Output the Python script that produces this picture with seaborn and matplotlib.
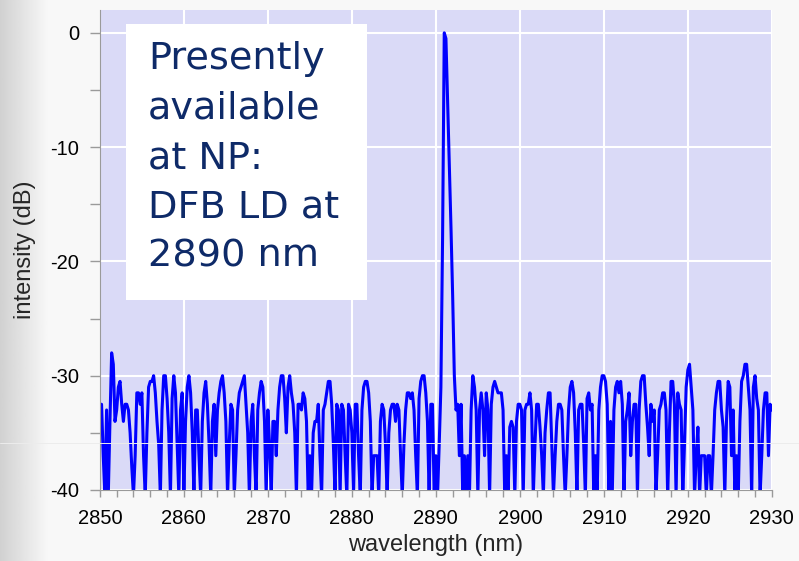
import numpy as np
import matplotlib.pyplot as plt
import seaborn as sns
from matplotlib.patches import Rectangle
from matplotlib.lines import Line2D
from matplotlib.ticker import MultipleLocator

# intensity in dB, sampled every 0.2 nm (values below -40 fall off the axis)
noise_2850 = [-32.5, -32.5, -37, -40.5, -33, -40.5, -34, -28, -29, -34,
              -33, -31, -30.5, -32.5, -34, -32.5, -32.5, -33, -35, -38,
              -40.5, -37, -31.5, -31.5, -32.5, -31.5, -37, -40.5, -35, -31,
              -30.5, -30.5, -30, -31.5, -34, -36, -40.5, -33, -30, -30,
              -32, -35, -40.5, -32, -30, -31.5, -36, -40.5, -33, -31.5]
noise_2860 = [-40.5, -34, -31, -30, -31.5, -35, -40.5, -33, -33, -37,
              -40.5, -34, -31.5, -30.5, -32.5, -36, -40.5, -34, -32.5, -37,
              -33, -31.5, -30.5, -30, -31.5, -34, -40.5, -36, -32.5, -33,
              -40.5, -37, -33, -31.5, -31, -30.5, -30, -32.5, -35, -40.5,
              -34, -32.5, -37, -40.5, -33, -31.5, -30.5, -31, -34, -40.5]
noise_2870 = [-33, -36, -40.5, -34, -34, -37, -33, -31, -30, -30,
              -32, -35, -31, -30, -31.5, -32.5, -35, -40.5, -32.5, -32.5,
              -33, -31.5, -32, -34, -40.5, -37, -40.5, -35, -34, -34,
              -32.5, -37, -40.5, -33, -32.5, -31.5, -30.5, -30.5, -32.5, -36,
              -40.5, -32.5, -33, -40.5, -32.5, -33, -37, -40.5, -32.5, -33]
noise_2880 = [-35, -40.5, -32.5, -32.5, -37, -40.5, -33, -31, -30.5, -30.5,
              -31.5, -34, -40.5, -37, -37, -37, -40.5, -34, -32.5, -33,
              -36, -40.5, -35, -33, -32.5, -32.5, -34, -32.5, -33, -37,
              -40.5, -36, -33, -31.5, -31.5, -32, -31.5, -33, -37, -40.5,
              -32, -30.5, -30, -30, -31.5, -34, -40.5, -32.5, -32.5, -40.5]
laser_2890 = [-37, -40.5, -36, -31, -18, 0, -0.5, -6, -11.5, -17,
              -23, -30, -33, -32.5, -37, -32.5, -40.5, -37, -40.5, -37,
              -40.5, -33, -30, -31, -33, -40.5, -33, -31.5, -33, -37,
              -31.5, -33, -40.5, -32.5, -31, -30.5, -31, -31.5, -31.5, -31.5,
              -33, -40.5, -37, -40.5, -34.5, -34, -34.5, -40.5, -34, -32.5]
noise_2900 = [-32.5, -33, -40.5, -33, -32.5, -32.5, -31.5, -33, -40.5, -36,
              -32.5, -32.5, -34.5, -37, -40.5, -35, -33, -31.5, -31.5, -36,
              -40.5, -37, -34, -32.5, -32.5, -33, -37, -40.5, -37, -33,
              -31, -30.5, -31.5, -35, -40.5, -33, -32.5, -32.5, -36, -40.5,
              -32, -31.5, -33, -32.5, -40.5, -37, -40.5, -33, -31, -30]
noise_2910 = [-30, -30.5, -32.5, -40.5, -34, -40.5, -33, -31, -30.5, -31.5,
              -30.5, -32.5, -40.5, -34, -33, -31.5, -37, -34, -32.5, -32.5,
              -40.5, -33, -30.5, -30, -30, -32.5, -34.5, -37, -32.5, -34,
              -33, -40.5, -37, -33, -32.5, -31.5, -31.5, -33, -40.5, -35,
              -30.5, -30.5, -32.5, -40.5, -31.5, -32.5, -33, -40.5, -36, -31]
noise_2920 = [-29.5, -29, -31, -33, -40.5, -37, -34.5, -40.5, -37, -37,
              -37, -40.5, -37, -37, -40.5, -37, -33, -31.5, -30.5, -30.5,
              -33, -34.5, -40.5, -34, -30.5, -31, -37, -33, -40.5, -37,
              -40.5, -34, -30.5, -30, -29, -29, -31, -33, -40.5, -31,
              -30, -32, -33, -40.5, -37, -33, -31.5, -31.5, -37, -32.5,
              -33]

intensity = (noise_2850 + noise_2860 + noise_2870 + noise_2880 + laser_2890
             + noise_2900 + noise_2910 + noise_2920)
wavelength = np.linspace(2850, 2930, len(intensity))

note = "Presently\navailable\nat NP:\nDFB LD at\n2890 nm"

sns.set_style("darkgrid", {"axes.facecolor": "#dadaf7", "grid.color": "white",
                           "axes.edgecolor": "#9a9a9a", "xtick.bottom": True,
                           "ytick.left": True})
plt.rcParams['font.family'] = ['Liberation Sans', 'DejaVu Sans']
plt.rcParams['axes.unicode_minus'] = False

fig = plt.figure(figsize=(7.99, 5.61), dpi=100, facecolor='#f8f8f8')

# grey slide margin on the left
grad = np.linspace(0.82, 0.97, 60).reshape(1, -1)
bg = fig.add_axes([0, 0, 0.06, 1], zorder=-5)
bg.imshow(grad, cmap='gray', vmin=0, vmax=1, aspect='auto')
bg.axis('off')
fig.add_artist(Line2D([0, 1], [1 - 443 / 561] * 2, color='#ececec', lw=0.7))

ax = fig.add_axes([0.125, 0.1266, 0.841, 0.8556])
sns.lineplot(x=wavelength, y=intensity, color='#0000ff', lw=2.2, ax=ax)

ax.set_xlim(2850, 2930)
ax.set_ylim(-40, 2)
ax.xaxis.set_major_locator(MultipleLocator(10))
ax.xaxis.set_minor_locator(MultipleLocator(2))
ax.yaxis.set_major_locator(MultipleLocator(10))
ax.yaxis.set_minor_locator(MultipleLocator(5))
ax.grid(True, which='major', color='white', lw=1.5)
ax.grid(False, which='minor')
ax.tick_params(which='both', direction='out', width=1, color='#9a9a9a',
               labelsize=14.5, labelcolor='black')
ax.tick_params(axis='x', which='both', length=5, pad=9)
ax.tick_params(axis='y', which='both', length=7, pad=8)
for s in ['top', 'right']:
    ax.spines[s].set_visible(False)
ax.set_xlabel('wavelength (nm)', fontsize=17, labelpad=4)
ax.set_ylabel('intensity (dB)', fontsize=17, labelpad=10)

ax.add_patch(Rectangle((0.0387, 0.396), 0.3586, 0.575, transform=ax.transAxes,
                       facecolor='white', edgecolor='none', zorder=3))
ax.text(0.0714, 0.935, note, transform=ax.transAxes, va='top', ha='left',
        fontsize=27.5, color='#0e2a68', family=['DejaVu Sans'],
        linespacing=1.48, zorder=4)

fig.savefig('out.png', dpi=100, facecolor=fig.get_facecolor())
